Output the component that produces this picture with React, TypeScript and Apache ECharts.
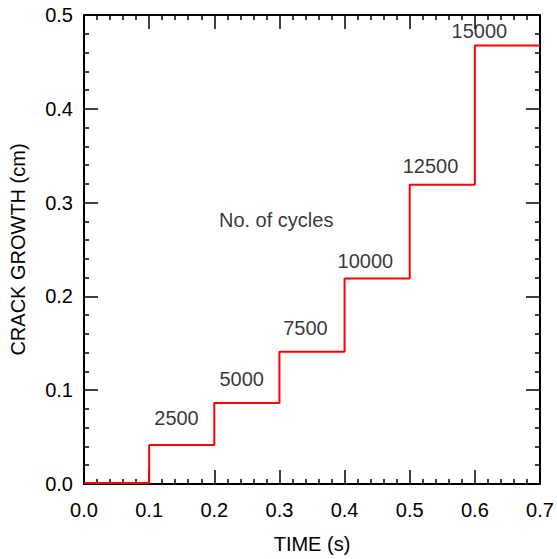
import React, { useEffect, useRef } from "react";
import * as echarts from "echarts";

// Step times (s) and crack growth (cm)
const timeValues = [0, 0.1, 0.2, 0.3, 0.4, 0.5, 0.6, 0.7];
const crackValues = [0.001, 0.0417, 0.0863, 0.141, 0.219, 0.319, 0.4674, 0.4674];

// Cycle-count annotations (label anchor in data coordinates)
const cycleLabels = ["2500", "5000", "7500", "10000", "12500", "15000"];
const cycleLabelTime = [0.142, 0.242, 0.34, 0.432, 0.532, 0.607];
const cycleLabelCrack = [0.0704, 0.1115, 0.1667, 0.238, 0.339, 0.4833];

const noteText = "No. of cycles";
const noteTime = 0.295;
const noteCrack = 0.2816;

const xTitle = "TIME (s)";
const yTitle = "CRACK GROWTH (cm)";

const FONT = "'Liberation Sans', Arial, Helvetica, sans-serif";
const FS = 20;

export default function App() {
  const ref = useRef<HTMLDivElement>(null);
  useEffect(() => {
    if (!ref.current) return;
    const chart = echarts.init(ref.current, null, { renderer: "svg" });
    const axisCommon = {
      axisLine: { show: true, onZero: false, lineStyle: { color: "#000", width: 2 } },
      axisTick: { show: true, inside: true, length: 14, lineStyle: { color: "#000", width: 1.5 } },
      minorTick: { show: true, splitNumber: 5, length: 5, lineStyle: { color: "#000", width: 1.5 } },
      splitLine: { show: false },
      minorSplitLine: { show: false },
    };
    chart.setOption({
      animation: false,
      backgroundColor: "#fff",
      textStyle: { fontFamily: FONT },
      grid: { left: 83, right: 17, top: 15, bottom: 72, containLabel: false },
      xAxis: [
        {
          type: "value",
          position: "bottom",
          min: 0,
          max: 0.7,
          interval: 0.1,
          name: xTitle,
          nameLocation: "middle",
          nameGap: 50,
          nameTextStyle: { color: "#000", fontSize: FS, fontFamily: FONT },
          axisLabel: {
            color: "#000",
            fontSize: FS,
            fontFamily: FONT,
            margin: 16,
            formatter: (v: number) => v.toFixed(1),
          },
          ...axisCommon,
        },
        {
          type: "value",
          position: "top",
          min: 0,
          max: 0.7,
          interval: 0.1,
          axisLabel: { show: false },
          ...axisCommon,
        },
      ],
      yAxis: [
        {
          type: "value",
          position: "left",
          min: 0,
          max: 0.5,
          interval: 0.1,
          name: yTitle,
          nameLocation: "middle",
          nameGap: 56,
          nameRotate: 90,
          nameTextStyle: { color: "#000", fontSize: FS, fontFamily: FONT },
          axisLabel: {
            color: "#000",
            fontSize: FS,
            fontFamily: FONT,
            margin: 11,
            formatter: (v: number) => v.toFixed(1),
          },
          ...axisCommon,
        },
        {
          type: "value",
          position: "right",
          min: 0,
          max: 0.5,
          interval: 0.1,
          axisLabel: { show: false },
          ...axisCommon,
        },
      ],
      series: [
        {
          type: "line",
          step: "end",
          data: timeValues.map((t, i) => [t, crackValues[i]]),
          showSymbol: false,
          symbol: "none",
          lineStyle: { color: "#ff0000", width: 2 },
          clip: false,
        },
        {
          type: "scatter",
          symbolSize: 0,
          data: cycleLabels.map((s, i) => ({ value: [cycleLabelTime[i], cycleLabelCrack[i]], name: s })),
          label: {
            show: true,
            position: "inside",
            formatter: (p: any) => p.name,
            color: "#000",
            fontSize: FS,
            fontFamily: FONT,
          },
          silent: true,
        },
        {
          type: "scatter",
          symbolSize: 0,
          data: [{ value: [noteTime, noteCrack], name: noteText }],
          label: {
            show: true,
            position: "inside",
            formatter: (p: any) => p.name,
            color: "#000",
            fontSize: FS,
            fontFamily: FONT,
          },
          silent: true,
        },
      ],
    });
    return () => chart.dispose();
  }, []);
  return (
    <div
      ref={ref}
      style={{ position: "fixed", left: 0, top: 0, width: 557, height: 559 }}
    />
  );
}
